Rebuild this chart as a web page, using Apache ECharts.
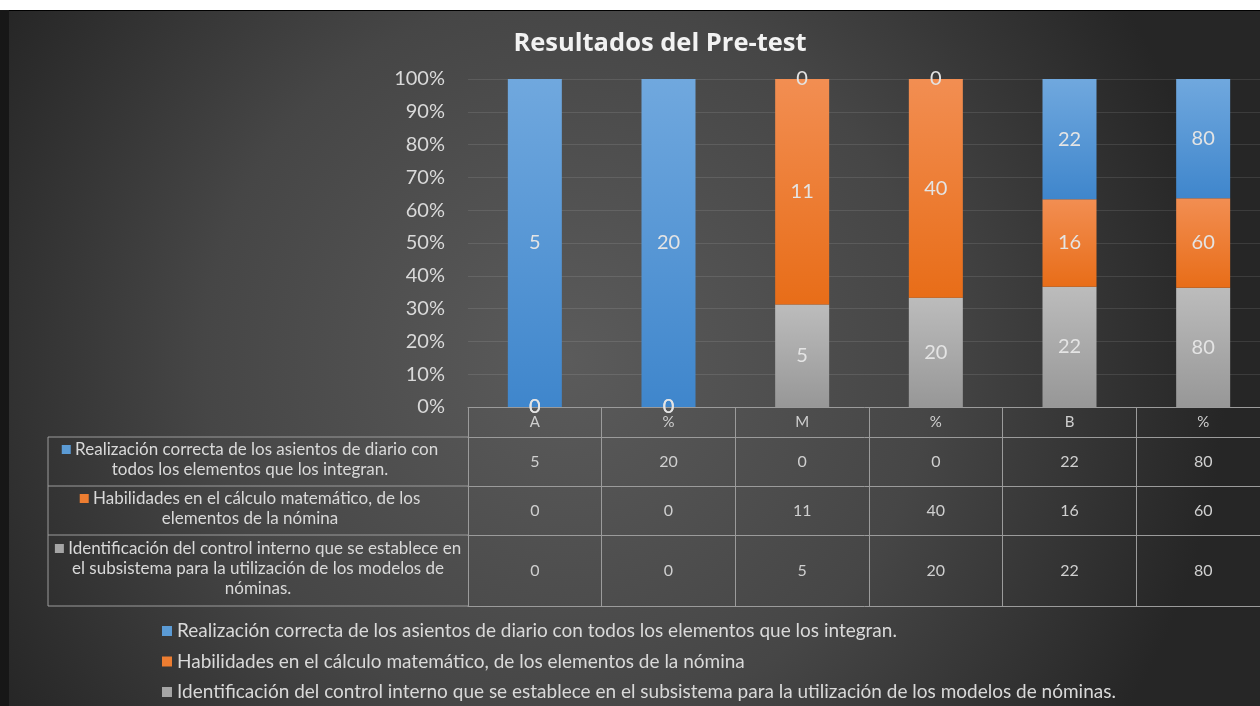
<!DOCTYPE html>
<html>
<head>
<meta charset="utf-8">
<script src="https://cdn.jsdelivr.net/npm/echarts@6/dist/echarts.min.js"></script>
<style>
  body { margin: 0; background: #fff; }
  #chart { position: absolute; left: 0; top: 11px; width: 1260px; height: 695px; }
  #edgeTop { position: absolute; left: 0; top: 10px; width: 1260px; height: 1px; background: #000; z-index: 2; }
  #edgeLeft { position: absolute; left: 0; top: 10px; width: 9px; height: 696px; background: #171717; z-index: 2; }
</style>
</head>
<body>
<div id="edgeTop"></div>
<div id="edgeLeft"></div>
<div id="chart"></div>
<script>
// datos del pre-test
const categories = ['A', '%', 'M', '%', 'B', '%'];
const seriesNames = [
  'Realización correcta de los asientos de diario con todos los elementos que los integran.',
  'Habilidades en el cálculo matemático, de los elementos de la nómina',
  'Identificación del control interno que se establece en el subsistema para la utilización de los modelos de nóminas.'
];
// textos de la tabla (con saltos de línea como en el original)
const rowLabels = [
  'Realización correcta de los asientos de diario con\ntodos los elementos que los integran.',
  'Habilidades en el cálculo matemático, de los\nelementos de la nómina',
  'Identificación del control interno que se establece en\nel subsistema para la utilización de los modelos de\nnóminas.'
];
const asientos = [5, 20, 0, 0, 22, 80];
const habilidades = [0, 0, 11, 40, 16, 60];
const control = [0, 0, 5, 20, 22, 80];
const yMax = 100;
const yStep = 10;

const font = 'Lato, "Open Sans", sans-serif';
const textCol = '#d9d9d9';
const lineCol = '#9b9b9b';
const solid = ['#5b9bd5', '#ed7d31', '#a5a5a5'];
const grads = [
  ['#70a8de', '#3f86cc'],
  ['#f28e52', '#e86d18'],
  ['#bcbcbc', '#979797']
];

// geometría de la tabla
const gridLeft = 468, gridTop = 68, gridH = 328;
const tableLeft = 48;
const rowH = [30, 49, 49, 71];
const labelCx = [250, 250, 258];

const rows = [asientos, habilidades, control];
const totals = categories.map((c, i) => rows.reduce((s, r) => s + r[i], 0));

const chart = echarts.init(document.getElementById('chart'));

function grad(c) {
  return { type: 'linear', x: 0, y: 0, x2: 0, y2: 1, colorStops: [{ offset: 0, color: c[0] }, { offset: 1, color: c[1] }] };
}

function rowAxis(values, offset, h) {
  return {
    type: 'category', data: categories, gridIndex: 0, position: 'bottom', offset: offset,
    axisLine: { show: true, lineStyle: { color: lineCol, width: 1 } },
    axisTick: { show: h > 0, length: h, lineStyle: { color: lineCol, width: 1 } },
    axisLabel: {
      show: !!values, interval: 0, margin: h / 2, verticalAlign: 'middle',
      color: '#cfcfcf', fontSize: 16, fontFamily: font,
      formatter: (v, i) => String(values[i])
    },
    splitLine: { show: false }
  };
}

const xAxes = [{
  type: 'category', data: categories,
  axisLine: { show: true, lineStyle: { color: lineCol, width: 1 } },
  axisTick: { show: true, length: rowH[0], lineStyle: { color: lineCol, width: 1 } },
  axisLabel: { interval: 0, margin: rowH[0] / 2, verticalAlign: 'middle', color: '#cfcfcf', fontSize: 15, fontFamily: font }
}];
let off = rowH[0];
rows.forEach((r, k) => {
  xAxes.push(rowAxis(r, off, rowH[k + 1]));
  off += rowH[k + 1];
});
xAxes.push(rowAxis(null, off, 0));

// orden de apilado: gris abajo, naranja, azul arriba
const stack = [2, 1, 0];
const series = stack.map(k => ({
  name: seriesNames[k],
  type: 'bar',
  stack: 'total',
  barWidth: 54,
  data: rows[k].map((v, i) => ({ value: v / totals[i] * 100, raw: v })),
  itemStyle: { color: grad(grads[k]) },
  label: {
    show: true, position: 'inside', color: '#e4e4e4', fontSize: 20, fontFamily: font,
    formatter: p => p.data.raw
  }
}));

// parte izquierda de la tabla
const graphics = [];
let y = gridTop + gridH + rowH[0];
const lineYs = [y];
rows.forEach((r, k) => { y += rowH[k + 1]; lineYs.push(y); });
lineYs.forEach(ly => graphics.push({
  type: 'line', shape: { x1: tableLeft, y1: ly, x2: gridLeft, y2: ly }, style: { stroke: lineCol, lineWidth: 1 }
}));
graphics.push({
  type: 'line', shape: { x1: tableLeft, y1: lineYs[0], x2: tableLeft, y2: lineYs[lineYs.length - 1] }, style: { stroke: lineCol, lineWidth: 1 }
});
const sqKeys = ['b', 'o', 'g'];
rowLabels.forEach((t, k) => {
  const cy = (lineYs[k] + lineYs[k + 1]) / 2 - 2;
  graphics.push({
    type: 'text',
    style: {
      text: '{' + sqKeys[k] + '| } ' + t,
      x: labelCx[k], y: cy,
      align: 'center', verticalAlign: 'middle',
      fill: textCol, fontSize: 17, fontFamily: font, lineHeight: 20,
      rich: {
        b: { width: 9, height: 9, backgroundColor: solid[0] },
        o: { width: 9, height: 9, backgroundColor: solid[1] },
        g: { width: 9, height: 9, backgroundColor: solid[2] }
      }
    }
  });
});

chart.setOption({
  backgroundColor: {
    type: 'radial', x: 0.45, y: 0.5, r: 0.95,
    colorStops: [{ offset: 0, color: '#5b5b5b' }, { offset: 0.55, color: '#464646' }, { offset: 1, color: '#262626' }]
  },
  title: {
    text: 'Resultados del Pre-test', left: 655, top: 13, textAlign: 'center',
    textStyle: { color: '#f2f2f2', fontSize: 25.5, fontWeight: 'bold', fontFamily: '"Open Sans", Lato, sans-serif', lineHeight: 30 }
  },
  legend: {
    orient: 'vertical', left: 162, top: 610, itemGap: 10.5, height: 95, padding: 0,
    icon: 'rect', itemWidth: 10, itemHeight: 10,
    data: seriesNames.map((n, k) => ({ name: n, itemStyle: { color: solid[k] } })),
    textStyle: { color: textCol, fontSize: 19, fontFamily: font, lineHeight: 20 },
    selectedMode: false
  },
  grid: { left: gridLeft, top: gridTop, height: gridH, right: -10, outerBoundsMode: 'none' },
  xAxis: xAxes,
  yAxis: {
    type: 'value', min: 0, max: yMax, interval: yStep,
    axisLine: { show: false }, axisTick: { show: false },
    axisLabel: { formatter: '{value}%', color: textCol, fontSize: 20, fontFamily: font, margin: 23 },
    splitLine: { lineStyle: { color: 'rgba(255,255,255,0.1)' } }
  },
  graphic: graphics,
  series: series
});
</script>
</body>
</html>
